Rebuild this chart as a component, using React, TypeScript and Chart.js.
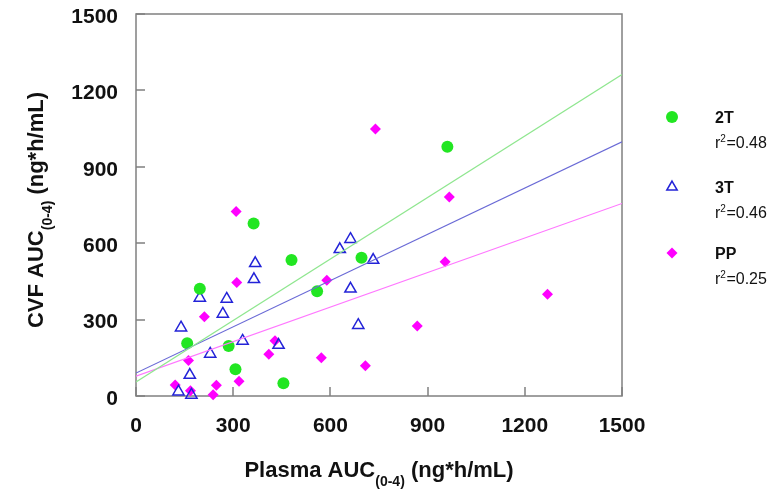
import React, { useEffect, useRef } from "react";
import { Chart, registerables } from "chart.js";

Chart.register(...registerables);

// ---- data ----
const xTicks = [0, 300, 600, 900, 1200, 1500];
const yTicks = [0, 300, 600, 900, 1200, 1500];

const seriesNames = ["2T", "3T", "PP"];
const r2Values = ["0.48", "0.46", "0.25"];

const x2T = [363, 480, 197, 696, 559, 158, 286, 307, 455, 961];
const y2T = [677, 534, 421, 543, 411, 207, 196, 105, 50, 979];

const x3T = [662, 629, 732, 368, 364, 197, 280, 268, 662, 686, 139, 329, 440, 229, 166, 131, 171];
const y3T = [616, 576, 534, 521, 458, 385, 381, 322, 421, 278, 268, 216, 200, 165, 82, 17, 4];

const xPP = [739, 309, 311, 589, 211, 429, 410, 572, 708, 162, 318, 248, 121, 168, 238, 967, 954, 1270, 868];
const yPP = [1048, 724, 446, 455, 311, 217, 164, 150, 119, 139, 58, 42, 43, 21, 5, 781, 527, 400, 275];

const fitX = [0, 1500];
const fit2T = [55, 1262];
const fit3T = [90, 998];
const fitPP = [78, 756];

// ---- styles ----
const FONT = '"Liberation Sans", Arial, sans-serif';
const C_GREEN = "#22e622";
const C_BLUE = "#2323d8";
const C_PINK = "#ff00ff";
const L_GREEN = "#8fe68f";
const L_BLUE = "#6a6ad6";
const L_PINK = "#ff77ff";

const pts = (xs: number[], ys: number[]) => xs.map((x, i) => ({ x, y: ys[i] }));

type Part = { text: string; font: string; dy: number; w?: number };
function drawParts(ctx: CanvasRenderingContext2D, parts: Part[], cx: number, baseY: number) {
  let total = 0;
  parts.forEach((p) => {
    ctx.font = p.font;
    p.w = ctx.measureText(p.text).width;
    total += p.w;
  });
  let x = cx - total / 2;
  ctx.textAlign = "left";
  ctx.textBaseline = "alphabetic";
  parts.forEach((p) => {
    ctx.font = p.font;
    ctx.fillText(p.text, x, baseY + p.dy);
    x += p.w || 0;
  });
}

const titleParts = (first: string): Part[] => [
  { text: first + " AUC", font: `bold 22px ${FONT}`, dy: 0 },
  { text: "(0-4)", font: `bold 14px ${FONT}`, dy: 9 },
  { text: " (ng*h/mL)", font: `bold 22px ${FONT}`, dy: 0 },
];

const framePlugin = {
  id: "frameTicks",
  beforeDatasetsDraw(chart: any) {
    const { ctx, chartArea: a, scales } = chart;
    const x = scales.x;
    const y = scales.y;
    ctx.save();
    ctx.strokeStyle = "#808080";
    ctx.lineWidth = 1.5;
    ctx.strokeRect(a.left, a.top, a.right - a.left, a.bottom - a.top);
    ctx.beginPath();
    xTicks.forEach((v) => {
      const px = Math.round(x.getPixelForValue(v));
      ctx.moveTo(px, a.bottom);
      ctx.lineTo(px, a.bottom - 9);
    });
    yTicks.forEach((v) => {
      const py = Math.round(y.getPixelForValue(v));
      ctx.moveTo(a.left, py);
      ctx.lineTo(a.left + 9, py);
    });
    ctx.stroke();
    ctx.restore();
  },
  afterDraw(chart: any) {
    const { ctx, chartArea: a } = chart;
    ctx.save();
    ctx.fillStyle = "#111";
    // x title
    drawParts(ctx, titleParts("Plasma"), (a.left + a.right) / 2, 477);
    // y title
    ctx.save();
    ctx.translate(43, 210);
    ctx.rotate(-Math.PI / 2);
    drawParts(ctx, titleParts("CVF"), 0, 0);
    ctx.restore();

    // legend
    const colors = [C_GREEN, C_BLUE, C_PINK];
    const markerY = [117, 187, 253];
    const mx = 672;
    const tx = 715;
    seriesNames.forEach((name, i) => {
      const my = markerY[i];
      ctx.beginPath();
      if (i === 0) {
        ctx.arc(mx, my, 6, 0, Math.PI * 2);
        ctx.fillStyle = colors[i];
        ctx.fill();
      } else if (i === 1) {
        const r = 6;
        ctx.moveTo(mx, my - r);
        ctx.lineTo(mx + r * Math.sin((2 * Math.PI) / 3), my - r * Math.cos((2 * Math.PI) / 3));
        ctx.lineTo(mx + r * Math.sin((4 * Math.PI) / 3), my - r * Math.cos((4 * Math.PI) / 3));
        ctx.closePath();
        ctx.strokeStyle = colors[i];
        ctx.lineWidth = 1.5;
        ctx.stroke();
      } else {
        const r = 5.5;
        ctx.moveTo(mx - r, my);
        ctx.lineTo(mx, my - r);
        ctx.lineTo(mx + r, my);
        ctx.lineTo(mx, my + r);
        ctx.closePath();
        ctx.fillStyle = colors[i];
        ctx.fill();
      }
      ctx.fillStyle = "#111";
      ctx.textAlign = "left";
      ctx.textBaseline = "middle";
      ctx.font = `bold 16px ${FONT}`;
      ctx.fillText(name, tx, my + 2);
      // r^2 line
      const ry = my + 27;
      ctx.font = `16px ${FONT}`;
      ctx.fillText("r", tx, ry);
      const rw = ctx.measureText("r").width;
      ctx.font = `10px ${FONT}`;
      ctx.fillText("2", tx + rw, ry - 5);
      const sw = ctx.measureText("2").width;
      ctx.font = `16px ${FONT}`;
      ctx.fillText("=" + r2Values[i], tx + rw + sw + 0.5, ry);
    });
    ctx.restore();
  },
};

export default function App() {
  const ref = useRef<HTMLCanvasElement | null>(null);
  useEffect(() => {
    document.body.style.margin = "0";
    const canvas = ref.current;
    if (!canvas) return;
    const chart = new Chart(canvas, {
      type: "scatter",
      data: {
        datasets: [
          {
            type: "line",
            label: "fit 2T",
            data: pts(fitX, fit2T),
            borderColor: L_GREEN,
            borderWidth: 1.2,
            pointRadius: 0,
            fill: false,
          },
          {
            type: "line",
            label: "fit 3T",
            data: pts(fitX, fit3T),
            borderColor: L_BLUE,
            borderWidth: 1.2,
            pointRadius: 0,
            fill: false,
          },
          {
            type: "line",
            label: "fit PP",
            data: pts(fitX, fitPP),
            borderColor: L_PINK,
            borderWidth: 1.2,
            pointRadius: 0,
            fill: false,
          },
          {
            label: seriesNames[0],
            data: pts(x2T, y2T),
            pointStyle: "circle",
            pointRadius: 6,
            backgroundColor: C_GREEN,
            borderColor: C_GREEN,
            borderWidth: 0,
            clip: false,
          },
          {
            label: seriesNames[1],
            data: pts(x3T, y3T),
            pointStyle: "triangle",
            pointRadius: 6.5,
            backgroundColor: "rgba(0,0,0,0)",
            borderColor: C_BLUE,
            borderWidth: 1.5,
            clip: false,
          },
          {
            label: seriesNames[2],
            data: pts(xPP, yPP),
            pointStyle: "rectRot",
            pointRadius: 5.5,
            backgroundColor: C_PINK,
            borderColor: C_PINK,
            borderWidth: 0,
            clip: false,
          },
        ],
      },
      options: {
        animation: false,
        responsive: false,
        devicePixelRatio: 1,
        layout: { padding: { left: 0, top: 14, right: 153, bottom: 0 } },
        plugins: {
          legend: { display: false },
          tooltip: { enabled: false },
          title: { display: false },
        },
        scales: {
          x: {
            type: "linear",
            min: 0,
            max: 1500,
            afterFit: (s: any) => {
              s.height = 97;
              s.paddingLeft = 0;
              s.paddingRight = 0;
            },
            grid: { display: false, drawTicks: false },
            border: { display: false },
            ticks: {
              stepSize: 300,
              autoSkip: false,
              maxRotation: 0,
              padding: 18,
              color: "#111",
              font: { family: FONT, size: 21, weight: "bold" },
              callback: (v: any) => String(v),
            },
          },
          y: {
            type: "linear",
            min: 0,
            max: 1500,
            afterFit: (s: any) => {
              s.width = 136;
              s.paddingTop = 0;
              s.paddingBottom = 0;
            },
            grid: { display: false, drawTicks: false },
            border: { display: false },
            ticks: {
              stepSize: 300,
              autoSkip: false,
              padding: 18,
              labelOffset: 3,
              color: "#111",
              font: { family: FONT, size: 21, weight: "bold" },
              callback: (v: any) => String(v),
            },
          },
        },
      },
      plugins: [framePlugin],
    } as any);
    return () => chart.destroy();
  }, []);
  return (
    <div style={{ width: 775, height: 493 }}>
      <canvas ref={ref} width={775} height={493} style={{ display: "block" }} />
    </div>
  );
}
